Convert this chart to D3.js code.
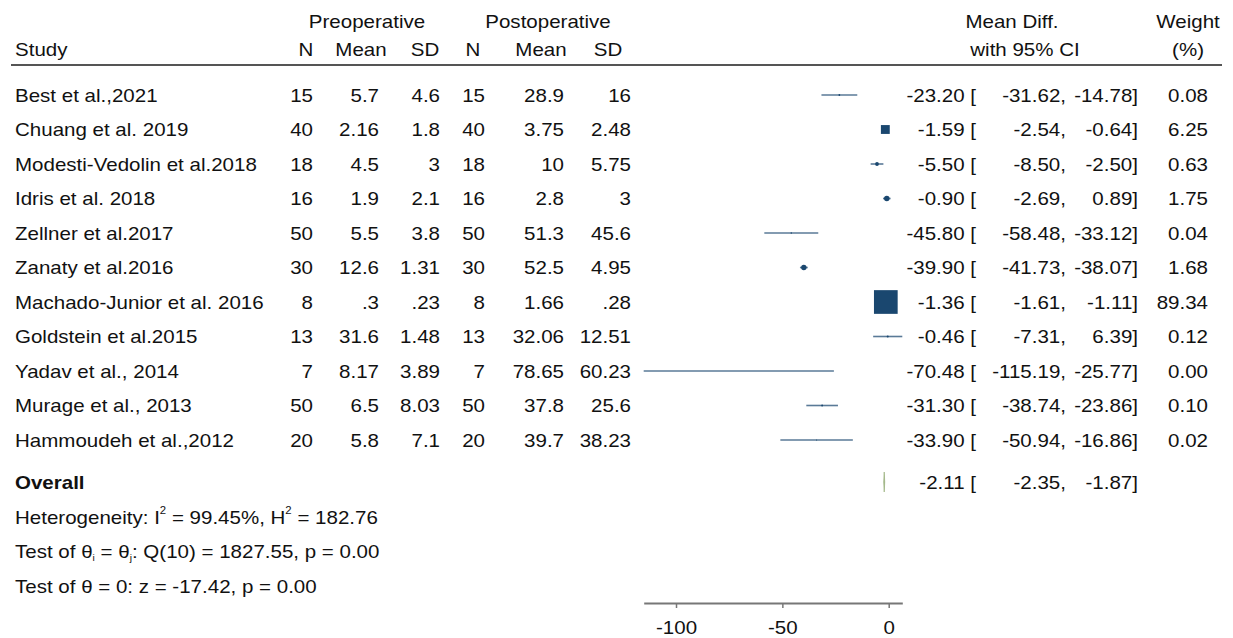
<!DOCTYPE html>
<html><head><meta charset="utf-8">
<script src="https://cdn.jsdelivr.net/npm/d3@7"></script>
<style>body{margin:0;background:#fff}svg{display:block}text{font-family:"Liberation Sans",Arial,sans-serif;fill:#111}</style>
</head><body><svg id="c" width="1233" height="638"></svg>
<script>
const studies=["Best et al.,2021","Chuang et al. 2019","Modesti-Vedolin et al.2018","Idris et al. 2018","Zellner et al.2017","Zanaty et al.2016","Machado-Junior et al. 2016","Goldstein et al.2015","Yadav et al., 2014","Murage et al., 2013","Hammoudeh et al.,2012"];
const preN=["15","40","18","16","50","30","8","13","7","50","20"];
const preMean=["5.7","2.16","4.5","1.9","5.5","12.6",".3","31.6","8.17","6.5","5.8"];
const preSD=["4.6","1.8","3","2.1","3.8","1.31",".23","1.48","3.89","8.03","7.1"];
const postN=["15","40","18","16","50","30","8","13","7","50","20"];
const postMean=["28.9","3.75","10","2.8","51.3","52.5","1.66","32.06","78.65","37.8","39.7"];
const postSD=["16","2.48","5.75","3","45.6","4.95",".28","12.51","60.23","25.6","38.23"];
const md=[-23.20,-1.59,-5.50,-0.90,-45.80,-39.90,-1.36,-0.46,-70.48,-31.30,-33.90];
const lo=[-31.62,-2.54,-8.50,-2.69,-58.48,-41.73,-1.61,-7.31,-115.19,-38.74,-50.94];
const hi=[-14.78,-0.64,-2.50,0.89,-33.12,-38.07,-1.11,6.39,-25.77,-23.86,-16.86];
const weight=[0.08,6.25,0.63,1.75,0.04,1.68,89.34,0.12,0.00,0.10,0.02];
const overall={md:-2.11,lo:-2.35,hi:-1.87};
const statLines=["Heterogeneity: I² = 99.45%, H² = 182.76","Test of θi = θj: Q(10) = 1827.55, p = 0.00","Test of θ = 0: z = -17.42, p = 0.00"];
const xTicks=[-100,-50,0];

const svg=d3.select("#c");
const fs=18;
const sx=1.14;
const f2=v=>v.toFixed(2);
const x=d3.scaleLinear().domain([d3.min(lo),d3.max(hi)]).range([643.7,902.3]);
const y=d3.scalePoint().domain(d3.range(studies.length)).range([95,440]);
const size=d3.scalePow().exponent(0.37).domain([0,89.34]).range([0,23.7]);

function txt(xp,yp,s,anchor,extra){const t=svg.append("text").attr("transform",`translate(${xp},${yp}) scale(${sx},1)`).attr("font-size",fs).attr("text-anchor",anchor||"start").text(s);if(extra)extra(t);return t;}

// header
txt(367,28,"Preoperative","middle");
txt(548,28,"Postoperative","middle");
txt(1012,28,"Mean Diff.","middle");
txt(1188,28,"Weight","middle");
txt(15,56,"Study");
[["N",306],["Mean",361],["SD",425],["N",473],["Mean",541],["SD",608]].forEach(d=>txt(d[1],56,d[0],"middle"));
txt(1025,56,"with 95% CI","middle");
txt(1188,56,"(%)","middle");
svg.append("line").attr("x1",11).attr("x2",1222).attr("y1",65).attr("y2",65).attr("stroke","#555").attr("stroke-width",2.2);

// rows
studies.forEach((s,i)=>{
  const yb=y(i)+6.5;
  txt(15,yb,s);
  txt(313,yb,preN[i],"end");
  txt(379,yb,preMean[i],"end");
  txt(440,yb,preSD[i],"end");
  txt(485,yb,postN[i],"end");
  txt(564,yb,postMean[i],"end");
  txt(631,yb,postSD[i],"end");
  txt(976,yb,f2(md[i])+" [","end");
  txt(1066,yb,f2(lo[i])+",","end");
  txt(1138,yb,f2(hi[i])+"]","end");
  txt(1208,yb,f2(weight[i]),"end");
});

const g=svg.append("g");
g.selectAll("line.ci").data(md).join("line").attr("class","ci")
 .attr("x1",(d,i)=>x(lo[i])).attr("x2",(d,i)=>x(hi[i]))
 .attr("y1",(d,i)=>y(i)).attr("y2",(d,i)=>y(i))
 .attr("stroke","#1a476f").attr("stroke-opacity",0.72).attr("stroke-width",1.6);
g.selectAll("rect.box").data(md).join("rect").attr("class","box")
 .attr("x",(d,i)=>x(d)-size(weight[i])/2).attr("y",(d,i)=>y(i)-size(weight[i])/2)
 .attr("width",(d,i)=>size(weight[i])).attr("height",(d,i)=>size(weight[i]))
 .attr("rx",(d,i)=>size(weight[i])<7?size(weight[i])/2:0)
 .attr("fill","#1a476f");

// overall
const yo=482;
txt(15,yo+6.5,"Overall","start",t=>t.attr("font-weight","bold"));
svg.append("path").attr("d",`M${x(overall.lo)},${yo} L${x(overall.md)},${yo-10} L${x(overall.hi)},${yo} L${x(overall.md)},${yo+10} Z`)
 .attr("fill","#9ab07e").attr("stroke","#9ab07e").attr("stroke-width",1).attr("stroke-opacity",0.7);
txt(976,yo+6.5,f2(overall.md)+" [","end");
txt(1066,yo+6.5,f2(overall.lo)+",","end");
txt(1138,yo+6.5,f2(overall.hi)+"]","end");

// stats
const st=[517,551,586];
let t1=txt(15,st[0]+6.5,"");
t1.append("tspan").text("Heterogeneity: I");
t1.append("tspan").attr("dy",-10).attr("font-size",10).text("2");
t1.append("tspan").attr("dy",10).text(" = 99.45%, H");
t1.append("tspan").attr("dy",-10).attr("font-size",10).text("2");
t1.append("tspan").attr("dy",10).text(" = 182.76");
let t2=txt(15,st[1]+6.5,"");
t2.append("tspan").text("Test of θ");
t2.append("tspan").attr("dy",3).attr("font-size",9).text("i");
t2.append("tspan").attr("dy",-3).text(" = θ");
t2.append("tspan").attr("dy",3).attr("font-size",9).text("j");
t2.append("tspan").attr("dy",-3).text(": Q(10) = 1827.55, p = 0.00");
txt(15,st[2]+6.5,statLines[2]);

// axis
const ax=svg.append("g").attr("transform","translate(0,603)");
ax.call(d3.axisBottom(x).tickValues(xTicks).tickSize(5).tickSizeOuter(0).tickFormat(d3.format("d")));
ax.select(".domain").attr("stroke","#777").attr("stroke-width",2);
ax.selectAll(".tick line").attr("stroke","#777").attr("stroke-width",1.5);
ax.selectAll(".tick text").attr("font-size",fs).attr("font-family","Liberation Sans, Arial, sans-serif").attr("fill","#111")
 .attr("y",0).attr("dy",0).attr("transform",`translate(0,31) scale(${sx},1)`).text(d=>d<0?"-"+Math.abs(d):d);
</script></body></html>
